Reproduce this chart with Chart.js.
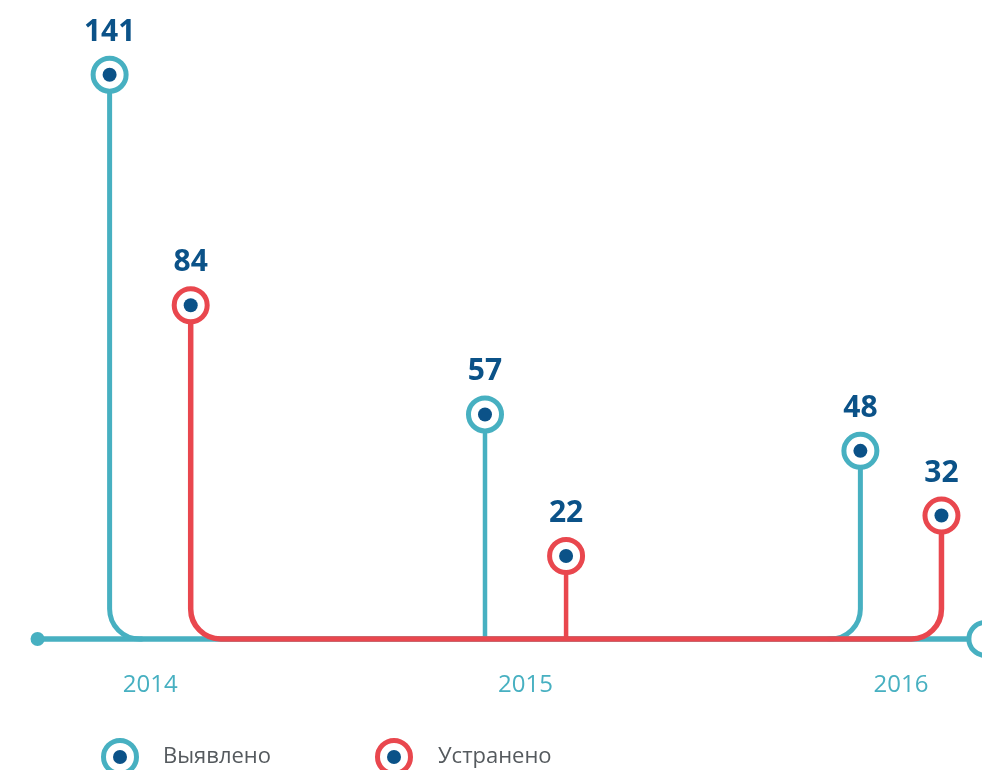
<!DOCTYPE html>
<html>
<head>
<meta charset="utf-8">
<script src="https://cdn.jsdelivr.net/npm/chart.js@4.4.0/dist/chart.umd.min.js"></script>
<style>
  html, body { margin: 0; padding: 0; background: #fff; }
  #wrap { width: 982px; height: 770px; overflow: hidden; }
</style>
</head>
<body>
<div id="wrap"><canvas id="chart" width="982" height="770"></canvas></div>
<script>
// Data
const years = [2014, 2015, 2016];
const detected = [141, 57, 48];   // Выявлено
const fixed = [84, 22, 32];       // Устранено
const seriesNames = ['Выявлено', 'Устранено'];

// Look
const TEAL = '#47b0c1';
const RED = '#e9474e';
const NAVY = '#0b5288';
const GREY = '#555a5e';
const FONT = '"Open Sans", "Noto Sans", sans-serif';
const shift = 0.108;        // each series sits a little left/right of its year
const baseLevel = 1.5;      // level of the horizontal line
const lineStart = 2013.7;   // teal line start (x units)
const lineEnd = 2016.225;   // teal line end circle (x units)

const toPoints = (vals, dx) => years.map((y, i) => ({ x: y + dx, y: vals[i] }));

const stemsPlugin = {
  id: 'stems',
  beforeDatasetsDraw(chart) {
    const { ctx, scales: { x, y } } = chart;
    const base = y.getPixelForValue(baseLevel);
    const r = 30;
    ctx.save();
    ctx.lineCap = 'round';
    ctx.lineJoin = 'round';

    // teal: long line + stems
    const tx = years.map(v => x.getPixelForValue(v - shift));
    const ty = detected.map(v => y.getPixelForValue(v));
    const endX = x.getPixelForValue(lineEnd);
    ctx.strokeStyle = TEAL;
    ctx.lineWidth = 5.5;
    ctx.beginPath();
    ctx.moveTo(x.getPixelForValue(lineStart), base);
    ctx.lineTo(endX - 17, base);
    ctx.stroke();
    ctx.fillStyle = TEAL;
    ctx.beginPath();
    ctx.arc(x.getPixelForValue(lineStart), base, 7, 0, Math.PI * 2);
    ctx.fill();
    ctx.lineWidth = 5;
    ctx.beginPath();
    ctx.moveTo(tx[0], ty[0]);
    ctx.lineTo(tx[0], base - r);
    ctx.arcTo(tx[0], base, tx[0] + r, base, r);
    ctx.lineTo(tx[0] + r + 2, base);
    ctx.moveTo(tx[2], ty[2]);
    ctx.lineTo(tx[2], base - r);
    ctx.arcTo(tx[2], base, tx[2] - r, base, r);
    ctx.lineTo(tx[2] - r - 2, base);
    ctx.stroke();
    ctx.lineWidth = 4.5;
    ctx.beginPath();
    ctx.moveTo(tx[1], ty[1]);
    ctx.lineTo(tx[1], base);
    ctx.stroke();

    // end circle of teal line
    ctx.lineWidth = 5;
    ctx.fillStyle = '#fff';
    ctx.beginPath();
    ctx.arc(endX, base, 16.5, 0, Math.PI * 2);
    ctx.fill();
    ctx.stroke();

    // red: U-shaped line + middle stem
    const rx = years.map(v => x.getPixelForValue(v + shift));
    const ry = fixed.map(v => y.getPixelForValue(v));
    ctx.strokeStyle = RED;
    ctx.lineWidth = 5.5;
    ctx.beginPath();
    ctx.moveTo(rx[0], ry[0]);
    ctx.lineTo(rx[0], base - r);
    ctx.arcTo(rx[0], base, rx[0] + r, base, r);
    ctx.lineTo(rx[2] - r, base);
    ctx.arcTo(rx[2], base, rx[2], base - r, r);
    ctx.lineTo(rx[2], ry[2]);
    ctx.stroke();
    ctx.lineWidth = 4.5;
    ctx.lineCap = 'butt';
    ctx.beginPath();
    ctx.moveTo(rx[1], ry[1]);
    ctx.lineTo(rx[1], base);
    ctx.stroke();
    ctx.restore();
  },
  afterDatasetsDraw(chart) {
    const { ctx, scales: { x, y } } = chart;
    ctx.save();
    // inner dots + value labels
    chart.data.datasets.forEach((ds, di) => {
      const meta = chart.getDatasetMeta(di);
      meta.data.forEach((pt, i) => {
        ctx.fillStyle = NAVY;
        ctx.beginPath();
        ctx.arc(pt.x, pt.y, 7, 0, Math.PI * 2);
        ctx.fill();
        ctx.font = `bold 30px ${FONT}`;
        ctx.textAlign = 'center';
        ctx.textBaseline = 'alphabetic';
        ctx.fillText(String(ds.data[i].y), pt.x, pt.y - 34);
      });
    });

    // year labels
    ctx.fillStyle = TEAL;
    ctx.font = `24px ${FONT}`;
    ctx.textAlign = 'center';
    ctx.textBaseline = 'middle';
    years.forEach(v => ctx.fillText(String(v), x.getPixelForValue(v), y.getPixelForValue(baseLevel) + 46));

    // legend
    const ly = 757;
    [[TEAL, 120, 163], [RED, 394, 438]].forEach(([col, cx, tx], i) => {
      ctx.strokeStyle = col;
      ctx.lineWidth = 5;
      ctx.fillStyle = '#fff';
      ctx.beginPath();
      ctx.arc(cx, ly, 16.5, 0, Math.PI * 2);
      ctx.fill();
      ctx.stroke();
      ctx.fillStyle = NAVY;
      ctx.beginPath();
      ctx.arc(cx, ly, 7, 0, Math.PI * 2);
      ctx.fill();
      ctx.fillStyle = GREY;
      ctx.font = `22px ${FONT}`;
      ctx.textAlign = 'left';
      ctx.textBaseline = 'middle';
      ctx.fillText(seriesNames[i], tx, ly);
    });
    ctx.restore();
  }
};

new Chart(document.getElementById('chart'), {
  type: 'scatter',
  data: {
    datasets: [
      { label: seriesNames[0], data: toPoints(detected, -shift), borderColor: TEAL, backgroundColor: '#fff',
        pointRadius: 16.5, pointHoverRadius: 16.5, pointBorderWidth: 5, pointHoverBorderWidth: 5 },
      { label: seriesNames[1], data: toPoints(fixed, shift), borderColor: RED, backgroundColor: '#fff',
        pointRadius: 16.5, pointHoverRadius: 16.5, pointBorderWidth: 5, pointHoverBorderWidth: 5 }
    ]
  },
  options: {
    responsive: false,
    animation: false,
    events: [],
    layout: { autoPadding: false, padding: { left: 0, right: 6, top: 10, bottom: 125 } },
    plugins: { legend: { display: false }, tooltip: { enabled: false } },
    scales: {
      x: { type: 'linear', min: 2013.6, max: 2016.2, display: false },
      y: { min: 0, max: 157, display: false }
    }
  },
  plugins: [stemsPlugin]
});
</script>
</body>
</html>
